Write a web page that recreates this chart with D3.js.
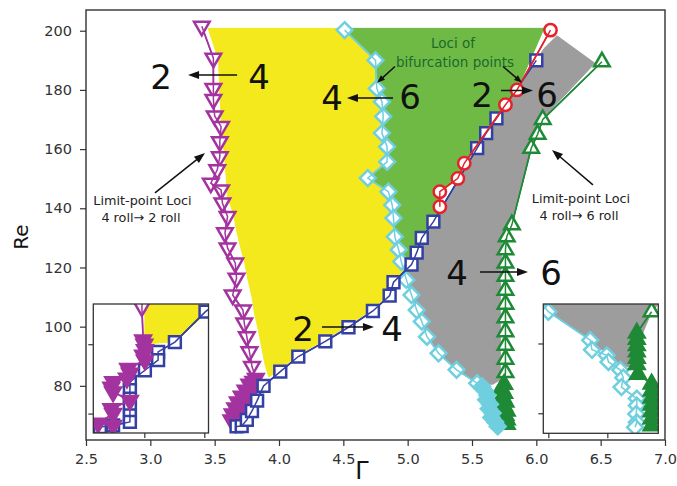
<!DOCTYPE html>
<html>
<head>
<meta charset="utf-8">
<script src="https://cdn.jsdelivr.net/npm/d3@7"></script>
<style>
  html, body { margin: 0; padding: 0; background: #fff; }
  svg text { font-family: "DejaVu Sans", sans-serif; }
</style>
</head>
<body>
<svg id="chart" width="677" height="486"></svg>
<script>
// ---------- axis ticks ----------
const xTicks = [2.5, 3.0, 3.5, 4.0, 4.5, 5.0, 5.5, 6.0, 6.5, 7.0];
const yTicks = [80, 100, 120, 140, 160, 180, 200];

// ---------- limit-point loci, 4 roll -> 2 roll (down triangles) ----------
const limit42 = [
  [3.40,201.5],[3.49,190.7],[3.49,180.5],[3.49,176.8],[3.50,171.2],[3.55,167.6],[3.54,162.5],
  [3.54,157.4],[3.52,153.0],[3.47,148.5],[3.55,146.2],[3.56,141.8],[3.60,137.2],[3.58,131.7],
  [3.60,126.6],[3.66,121.5],[3.67,116.4],[3.64,110.7],[3.72,105.6],[3.73,101.2],[3.75,96.6],
  [3.77,91.5],[3.79,86.5]
];
const limit42Dense = [
  [3.82,82.5],[3.80,81.5],[3.77,80.5],[3.80,79.5],[3.74,78.5],[3.78,77.5],[3.71,76.5],[3.75,75.5],
  [3.68,74.5],[3.72,73.5],[3.66,72.5],[3.70,71.5],[3.64,70.5],[3.68,69.5],[3.63,68.5],[3.66,67.5]
];

// ---------- bifurcation loci 2 -> 4 (squares) ----------
const bif24 = [
  [3.67,66.3],[3.71,66.4],[3.75,68.5],[3.79,71.5],[3.83,75.0],[3.88,80.0],[4.01,84.8],[4.15,89.9],
  [4.36,95.0],[4.54,99.8],[4.73,105.3],[4.86,110.5],[4.89,115.0],[5.03,121.0],[5.07,125.0],
  [5.11,130.0],[5.20,135.5],[5.54,160.3],[5.61,165.4],[5.69,170.4],[6.00,190.0]
];

// ---------- bifurcation loci 2 -> 6 (circles) ----------
const bif26 = [
  [5.25,140.5],[5.25,145.6],[5.39,150.1],[5.44,155.2],[5.76,175.0],[5.85,180.0],[6.11,200.2]
];

// ---------- bifurcation loci 4 -> 6 (diamonds) ----------
const bif46 = [
  [4.51,200.2],[4.75,190.0],[4.76,180.5],[4.80,176.0],[4.81,171.0],[4.80,165.4],[4.84,160.8],
  [4.84,155.7],[4.69,150.2],[4.85,145.6],[4.88,141.1],[4.89,136.7],[4.90,130.4],[4.93,126.0],
  [4.95,122.0],[4.99,115.8],[5.03,110.7],[5.07,105.6],[5.11,101.7],[5.15,96.6],[5.24,91.0],
  [5.38,85.4],[5.54,80.9]
];
const bif46Dense = [
  [5.58,79.8],[5.60,78.3],[5.62,76.8],[5.61,75.3],[5.64,73.8],[5.63,72.3],[5.66,70.8],
  [5.65,69.3],[5.68,67.8],[5.70,66.3]
];

// ---------- limit-point loci, 4 roll -> 6 roll (up triangles) ----------
const limit46 = [
  [6.51,189.5],[6.05,170.0],[6.01,165.0],[5.96,160.3],[5.81,134.4],[5.77,130.4],[5.76,126.0],
  [5.76,121.5],[5.76,117.0],[5.76,112.3],[5.76,107.6],[5.76,103.0],[5.76,98.3],[5.76,93.7],
  [5.76,89.0],[5.76,84.5]
];
const limit46Dense = [
  [5.75,80.5],[5.73,79.0],[5.75,77.5],[5.74,76.0],[5.76,74.5],[5.75,73.0],[5.77,71.5],
  [5.76,70.0],[5.77,68.5],[5.77,67.0]
];

// ---------- shaded regions (Gamma, Re) ----------
const yellowZone = [
  [3.45,200.8],[4.51,200.8],[4.75,190.0],[4.76,180.5],[4.80,176.0],[4.81,171.0],[4.80,165.4],
  [4.84,160.8],[4.84,155.7],[4.69,150.2],[4.85,145.6],[4.88,141.1],[4.89,136.7],[4.90,130.4],
  [4.93,126.0],[4.95,122.0],[4.97,118.5],[4.89,115.5],[4.86,111.0],[4.73,106.0],[4.54,100.5],
  [4.36,95.7],[4.15,90.5],[4.01,85.5],[3.92,83.0],[3.89,87.5],[3.865,93.2],[3.84,98.8],
  [3.81,104.4],[3.79,110.0],[3.76,115.7],[3.735,121.3],[3.70,127.0],[3.67,132.6],[3.645,138.3],
  [3.60,144.0],[3.58,156.3],[3.554,167.6],[3.54,178.9],[3.53,190.1]
];
const greenZone = [
  [4.51,200.8],[6.06,200.8],[5.85,180.0],[5.76,175.0],[5.69,170.4],[5.61,165.4],[5.54,160.3],
  [5.44,155.2],[5.39,150.1],[5.25,145.6],[5.25,140.5],[5.20,135.5],[5.11,130.0],[5.07,125.0],
  [5.03,121.0],[4.97,118.5],[4.95,122.0],[4.93,126.0],[4.90,130.4],[4.89,136.7],[4.88,141.1],
  [4.85,145.6],[4.69,150.2],[4.84,155.7],[4.84,160.8],[4.80,165.4],[4.81,171.0],[4.80,176.0],
  [4.76,180.5],[4.75,190.0]
];
const grayZone = [
  [6.16,198.3],[6.455,189.0],[6.015,168.7],[5.95,159.0],[5.80,134.0],[5.73,128.0],[5.72,110.0],
  [5.72,82.0],[5.66,80.5],[5.54,80.9],[5.38,85.4],[5.24,91.0],[5.15,96.6],[5.11,101.7],
  [5.07,105.6],[5.03,110.7],[4.99,115.8],[4.97,118.5],[5.03,121.0],[5.07,125.0],[5.11,130.0],
  [5.20,135.5],[5.54,160.3],[5.61,165.4],[5.69,170.4],[6.00,190.0],[6.06,194.0]
];

// ---------- left inset (close-up of the 2 -> 4 corner) ----------
const insetLeftTicksX = [3.7, 3.8];
const insetLeftTicksY = [70, 80];
const insetLeftYellow = [
  [3.701,86.0],[3.79,86.0],[3.81,85.0],[3.76,81.05],[3.74,80.3],[3.71,80.1],[3.701,80.6]
];
const insetLeftLimit = [
  [3.697,86.5],[3.696,85.4],[3.698,80.6],[3.700,80.0],[3.701,79.2],[3.698,78.4],[3.701,77.7],
  [3.673,76.5],[3.676,75.8],[3.671,75.1],[3.648,74.6],[3.645,73.8],[3.648,73.1],[3.676,71.9],
  [3.645,70.7],[3.648,70.0],[3.623,68.6],[3.648,68.3]
];
const insetLeftBif = [
  [3.83,86.5],[3.802,84.7],[3.751,80.3],[3.723,78.9],[3.723,77.7],[3.701,76.25],[3.676,74.56],
  [3.676,73.36],[3.676,72.16],[3.676,70.95],[3.676,69.75],[3.676,68.8],[3.648,68.3],[3.626,68.07]
];

// ---------- right inset (close-up of the 4 -> 6 corner) ----------
const insetRightTicksX = [5.6, 5.7];
const insetRightTicksY = [70, 80];
const insetRightGray = [
  [5.59,86.0],[5.79,86.0],[5.775,84.55],[5.755,80.5],[5.741,76.6],[5.722,76.9],[5.671,80.5],
  [5.60,84.55]
];
const insetRightBif = [
  [5.585,86.2],[5.60,84.55],[5.671,80.48],[5.674,79.1],[5.699,78.3],[5.702,77.35],[5.722,76.2],
  [5.727,75.1],[5.724,73.75],[5.75,72.1],[5.75,71.1],[5.749,69.9],[5.75,68.7],[5.747,68.0]
];
const insetRightLimit = [[5.775,84.55]];
const insetRightLimitDense = [
  [5.75,81.5],[5.75,80.6],[5.75,79.7],[5.75,78.8],[5.75,77.9],[5.75,77.0],[5.752,75.6],
  [5.775,74.2],[5.775,73.2],[5.775,72.2],[5.775,71.2],[5.775,70.2],[5.775,69.2],[5.775,68.2]
];

// ---------- colours ----------
const C = {
  yellow: "#f3e91c", green: "#6fba45", gray: "#9d9d9d",
  magenta: "#a3339f", blue: "#3440a4", red: "#e5222a",
  cyan: "#6fcfdf", dgreen: "#1f8a36", frame: "#333"
};

const svg = d3.select("#chart");
const defs = svg.append("defs");

// main axes
const x = d3.scaleLinear().domain([2.5, 7.0]).range([86, 665]);
const y = d3.scaleLinear().domain([61.7, 207]).range([440, 10]);

defs.append("clipPath").attr("id", "mainClip").append("rect")
  .attr("x", 86).attr("y", 10).attr("width", 579).attr("height", 430);

const plot = svg.append("g").attr("clip-path", "url(#mainClip)");

function zone(g, xs, ys, pts, color) {
  g.append("path").datum(pts)
    .attr("d", d3.line().x(d => xs(d[0])).y(d => ys(d[1])).curve(d3.curveLinearClosed))
    .attr("fill", color).attr("stroke", color).attr("stroke-width", 1).attr("stroke-linejoin", "round");
}

const shapes = {
  down: { type: d3.symbolTriangle, size: 105, rot: 180 },
  up: { type: d3.symbolTriangle, size: 105, rot: 0 },
  square: { type: d3.symbolSquare, size: 140, rot: 0 },
  circle: { type: d3.symbolCircle, size: 120, rot: 0 },
  diamond: { type: d3.symbolSquare, size: 125, rot: 45 }
};

function series(g, xs, ys, pts, dense, shape, color) {
  const s = shapes[shape];
  const sym = d3.symbol().type(s.type).size(s.size);
  const all = pts.concat(dense);
  g.append("path").datum(all)
    .attr("d", d3.line().x(d => xs(d[0])).y(d => ys(d[1])))
    .attr("fill", "none").attr("stroke", color).attr("stroke-width", 1.6);
  g.selectAll(null).data(pts).join("path")
    .attr("d", sym)
    .attr("transform", d => `translate(${xs(d[0])},${ys(d[1])}) rotate(${s.rot})`)
    .attr("fill", "#fff").attr("stroke", color).attr("stroke-width", 2.5);
  g.selectAll(null).data(dense).join("path")
    .attr("d", sym)
    .attr("transform", d => `translate(${xs(d[0])},${ys(d[1])}) rotate(${s.rot})`)
    .attr("fill", color).attr("stroke", color).attr("stroke-width", 2.5);
  // connecting line drawn over the hollow markers
  g.append("path").datum(all)
    .attr("d", d3.line().x(d => xs(d[0])).y(d => ys(d[1])))
    .attr("fill", "none").attr("stroke", color).attr("stroke-width", 1.5);
}

zone(plot, x, y, yellowZone, C.yellow);
zone(plot, x, y, greenZone, C.green);
zone(plot, x, y, grayZone, C.gray);

series(plot, x, y, limit46, limit46Dense, "up", C.dgreen);
series(plot, x, y, bif46, bif46Dense, "diamond", C.cyan);
series(plot, x, y, limit42, limit42Dense, "down", C.magenta);
series(plot, x, y, bif24, [], "square", C.blue);
series(plot, x, y, bif26, [], "circle", C.red);

// ---------- axes ----------
const xAxis = svg.append("g").attr("transform", "translate(0,440)")
  .call(d3.axisBottom(x).tickValues(xTicks).tickFormat(d3.format(".1f")).tickSize(6).tickPadding(8));
const yAxis = svg.append("g").attr("transform", "translate(86,0)")
  .call(d3.axisLeft(y).tickValues(yTicks).tickFormat(d3.format("d")).tickSize(6).tickPadding(8));
[xAxis, yAxis].forEach(a => {
  a.select(".domain").remove();
  a.selectAll("line").attr("stroke", C.frame).attr("stroke-width", 1.2);
  a.selectAll("text").attr("fill", "#333").style("font-size", "14.5px").style("font-family", "DejaVu Sans");
});

svg.append("rect").attr("x", 86).attr("y", 10).attr("width", 579).attr("height", 430)
  .attr("fill", "none").attr("stroke", C.frame).attr("stroke-width", 1.4);

svg.append("text").attr("transform", "translate(28,237) rotate(-90)")
  .attr("text-anchor", "middle").style("font-size", "20px").attr("fill", "#111").text("Re");
svg.append("text").attr("x", 362).attr("y", 479)
  .attr("text-anchor", "middle").style("font-size", "24px").attr("fill", "#111").text("Γ");

// ---------- annotations ----------
function arrow(g, x1, y1, x2, y2, color, head) {
  const px1 = x(x1), py1 = y(y1), px2 = x(x2), py2 = y(y2);
  const ang = Math.atan2(py2 - py1, px2 - px1);
  const L = head[0], Wd = head[1];
  const bx = px2 - L * Math.cos(ang), by = py2 - L * Math.sin(ang);
  g.append("line").attr("x1", px1).attr("y1", py1)
    .attr("x2", px2 - (L * 0.6) * Math.cos(ang)).attr("y2", py2 - (L * 0.6) * Math.sin(ang))
    .attr("stroke", color).attr("stroke-width", 1.5);
  const nx = -Math.sin(ang), ny = Math.cos(ang);
  g.append("path")
    .attr("d", `M${px2},${py2}L${bx + nx * Wd},${by + ny * Wd}L${bx},${by}L${bx - nx * Wd},${by - ny * Wd}Z`)
    .attr("fill", color);
}
function label(g, gx, re, txt, size, color) {
  g.append("text").attr("x", x(gx)).attr("y", y(re)).attr("text-anchor", "middle")
    .style("font-size", size + "px").attr("fill", color).text(txt);
}

const ann = svg.append("g");
// big transition labels
label(ann, 3.083, 180.3, "2", 34, "#111");
arrow(ann, 3.674, 185.0, 3.293, 185.0, "#111", [11, 4]);
label(ann, 3.845, 180.3, "4", 34, "#111");

label(ann, 4.412, 173.2, "4", 34, "#111");
arrow(ann, 4.886, 177.3, 4.528, 177.3, "#111", [11, 4]);
label(ann, 5.018, 173.6, "6", 34, "#111");

label(ann, 5.578, 174.2, "2", 34, "#111");
arrow(ann, 5.725, 179.8, 5.974, 179.8, "#111", [11, 4]);
label(ann, 6.083, 174.2, "6", 34, "#111");

label(ann, 5.383, 114.1, "4", 34, "#111");
arrow(ann, 5.562, 118.5, 5.935, 118.5, "#111", [11, 4]);
label(ann, 6.114, 114.1, "6", 34, "#111");

label(ann, 4.187, 95.2, "2", 34, "#111");
arrow(ann, 4.334, 99.9, 4.738, 99.9, "#111", [11, 4]);
label(ann, 4.878, 95.2, "4", 34, "#111");

// loci captions
label(ann, 5.352, 194.0, "Loci of", 13.5, "#1c6a2c");
label(ann, 5.368, 187.9, "bifurcation points", 13.5, "#1c6a2c");
arrow(ann, 4.901, 187.9, 4.762, 182.4, "#111", [8, 3]);
arrow(ann, 5.741, 187.9, 5.889, 182.4, "#111", [8, 3]);

label(ann, 2.939, 141.1, "Limit-point Loci", 12.8, "#222");
label(ann, 2.927, 135.4, "4 roll\u2192 2 roll", 12.8, "#222");
arrow(ann, 3.036, 145.2, 3.425, 158.7, "#111", [11, 4]);

label(ann, 6.347, 141.8, "Limit-point Loci", 12.8, "#222");
label(ann, 6.332, 136.0, "4 roll\u2192 6 roll", 12.8, "#222");
arrow(ann, 6.440, 147.9, 6.122, 159.7, "#111", [11, 4]);

// ---------- insets ----------
function inset(id, box, xd, yd, ticksX, ticksY, draw) {
  const xs = d3.scaleLinear().domain(xd).range([box[0], box[2]]);
  const ys = d3.scaleLinear().domain(yd).range([box[3], box[1]]);
  defs.append("clipPath").attr("id", id).append("rect")
    .attr("x", box[0]).attr("y", box[1]).attr("width", box[2] - box[0]).attr("height", box[3] - box[1]);
  svg.append("rect").attr("x", box[0]).attr("y", box[1])
    .attr("width", box[2] - box[0]).attr("height", box[3] - box[1]).attr("fill", "#fff");
  const g = svg.append("g").attr("clip-path", `url(#${id})`);
  draw(g, xs, ys);
  const ax = svg.append("g").attr("transform", `translate(0,${box[3]})`)
    .call(d3.axisBottom(xs).tickValues(ticksX).tickFormat("").tickSize(5));
  const ay = svg.append("g").attr("transform", `translate(${box[0]},0)`)
    .call(d3.axisLeft(ys).tickValues(ticksY).tickFormat("").tickSize(5));
  [ax, ay].forEach(a => {
    a.select(".domain").remove();
    a.selectAll("line").attr("stroke", C.frame).attr("stroke-width", 1.2);
  });
  svg.append("rect").attr("x", box[0]).attr("y", box[1])
    .attr("width", box[2] - box[0]).attr("height", box[3] - box[1])
    .attr("fill", "none").attr("stroke", C.frame).attr("stroke-width", 1.3);
}

inset("insetL", [93.3, 304, 208.5, 433], [3.615, 3.807], [67.2, 85.8],
  insetLeftTicksX, insetLeftTicksY, (g, xs, ys) => {
    zone(g, xs, ys, insetLeftYellow, C.yellow);
    series(g, xs, ys, insetLeftBif, [], "square", C.blue);
    series(g, xs, ys, insetLeftLimit.slice(0, 2), insetLeftLimit.slice(2), "down", C.magenta);
  });

inset("insetR", [543.3, 304, 658.3, 433.3], [5.5915, 5.7864], [67.13, 85.66],
  insetRightTicksX, insetRightTicksY, (g, xs, ys) => {
    zone(g, xs, ys, insetRightGray, C.gray);
    series(g, xs, ys, insetRightBif, [], "diamond", C.cyan);
    series(g, xs, ys, insetRightLimit, insetRightLimitDense, "up", C.dgreen);
  });
</script>
</body>
</html>
